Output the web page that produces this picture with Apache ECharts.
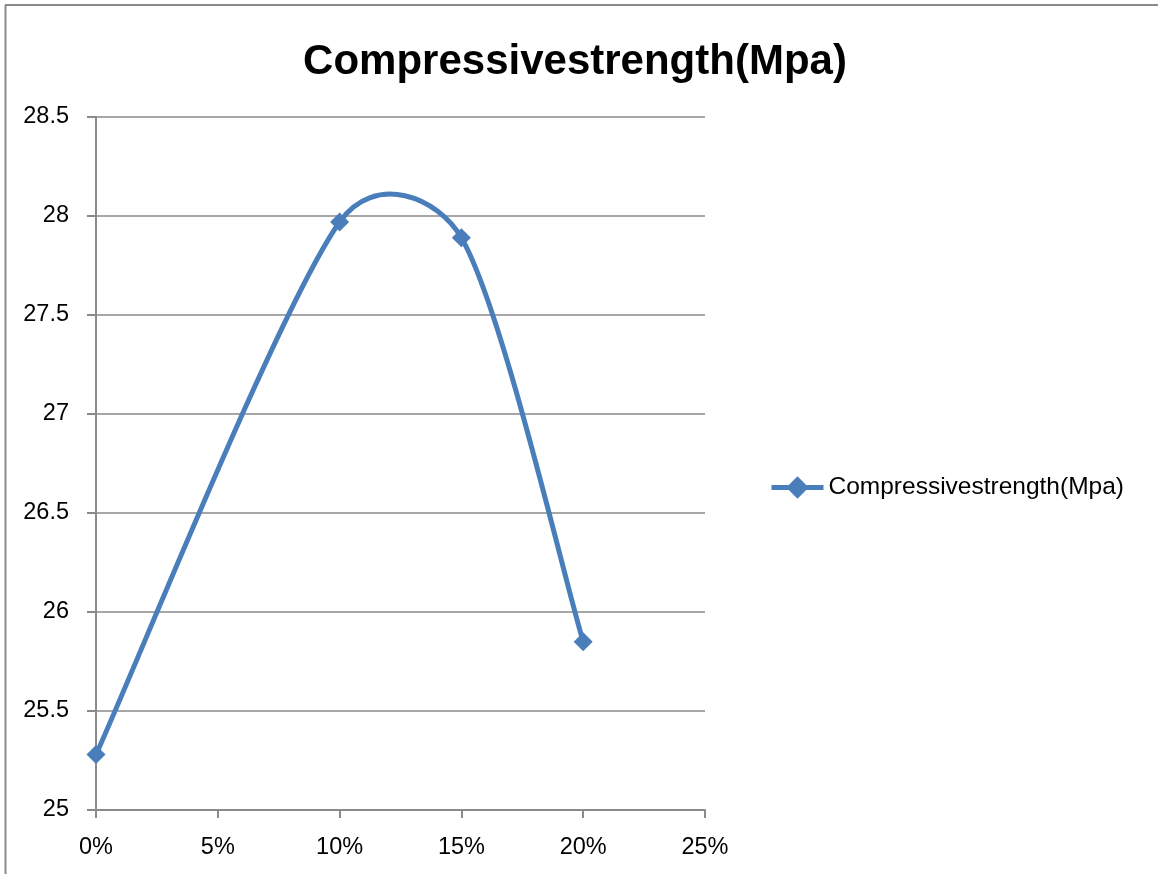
<!DOCTYPE html>
<html>
<head>
<meta charset="utf-8">
<script src="https://cdn.jsdelivr.net/npm/echarts@6/dist/echarts.min.js"></script>
<style>
html,body{margin:0;padding:0;background:#fff;}
#c{width:1158px;height:874px;}
</style>
</head>
<body>
<div id="c"></div>
<script>
const titleText = "Compressivestrength(Mpa)";
const seriesName = "Compressivestrength(Mpa)";
const replacement = [0, 10, 15, 20];          // percent
const strength = [25.28, 27.97, 27.89, 25.85]; // MPa
const xTicks = [0, 5, 10, 15, 20, 25];

const blue = '#4a7ebb';
const gray = '#8a8a8a';
const font = 'Liberation Sans';
const points = replacement.map((x, i) => [x, strength[i]]);

// Excel-style smoothed segment (Bezier with tension 1/6, control length capped)
function renderSegment(params, api) {
  const i = params.dataIndex, n = points.length;
  if (i >= n - 1) return null;
  const P = k => api.coord(points[Math.max(0, Math.min(n - 1, k))]);
  const p0 = P(i - 1), p1 = P(i), p2 = P(i + 1), p3 = P(i + 2);
  const d = (a, b) => Math.hypot(b[0] - a[0], b[1] - a[1]);
  const d12 = d(p1, p2), d02 = d(p0, p2), d13 = d(p1, p3);
  let f = 1;
  if (d02 / 6 > d12 / 2) f = Math.min(f, (d12 / 2) / (d02 / 6));
  if (d13 / 6 > d12 / 2) f = Math.min(f, (d12 / 2) / (d13 / 6));
  return {
    type: 'bezierCurve',
    shape: {
      x1: p1[0], y1: p1[1], x2: p2[0], y2: p2[1],
      cpx1: p1[0] + (p2[0] - p0[0]) * f / 6, cpy1: p1[1] + (p2[1] - p0[1]) * f / 6,
      cpx2: p2[0] - (p3[0] - p1[0]) * f / 6, cpy2: p2[1] - (p3[1] - p1[1]) * f / 6
    },
    style: {stroke: blue, lineWidth: 5, fill: 'none', lineCap: 'round'}
  };
}

const chart = echarts.init(document.getElementById('c'), null, {renderer: 'canvas'});
chart.setOption({
  animation: false,
  backgroundColor: '#fff',
  graphic: [
    {type: 'line', shape: {x1: 5, y1: 5, x2: 1158, y2: 5}, style: {stroke: gray, lineWidth: 2}},
    {type: 'line', shape: {x1: 5.5, y1: 5, x2: 5.5, y2: 874}, style: {stroke: gray, lineWidth: 2}}
  ],
  title: {
    text: titleText, left: 570, top: 36, textAlign: 'center',
    textStyle: {fontFamily: font, fontWeight: 'bold', fontSize: 42, color: '#000'}
  },
  legend: {
    data: [seriesName], left: 764, top: 470, itemWidth: 52, itemHeight: 28,
    textStyle: {fontFamily: font, fontSize: 24.5, color: '#000'},
    lineStyle: {color: blue, width: 5, opacity: 1},
    itemStyle: {color: blue, opacity: 1}
  },
  grid: {left: 96, right: 453, top: 117, bottom: 64, containLabel: false},
  xAxis: {
    type: 'value', min: 0, max: 25, interval: 5,
    axisLine: {lineStyle: {color: gray, width: 2}},
    axisTick: {show: true, length: 8, lineStyle: {color: gray, width: 2}},
    axisLabel: {
      formatter: v => xTicks.includes(v) ? v + '%' : '',
      margin: 26, fontFamily: font, fontSize: 23.5, color: '#000'
    },
    splitLine: {show: false}
  },
  yAxis: {
    type: 'value', min: 25, max: 28.5, interval: 0.5,
    axisLine: {show: true, lineStyle: {color: gray, width: 2}},
    axisTick: {show: true, length: 9, lineStyle: {color: gray, width: 2}},
    axisLabel: {margin: 27, fontFamily: font, fontSize: 23.5, color: '#000'},
    splitLine: {show: true, lineStyle: {color: gray, width: 1.5}}
  },
  series: [
    {
      name: 'smoothed', type: 'custom', z: 1, clip: false,
      data: points, encode: {x: 0, y: 1},
      renderItem: renderSegment
    },
    {
      name: seriesName, type: 'line', z: 3,
      data: points,
      symbol: 'diamond', symbolSize: 19,
      lineStyle: {color: blue, width: 5, opacity: 0},
      itemStyle: {color: blue}
    }
  ]
});
</script>
</body>
</html>
